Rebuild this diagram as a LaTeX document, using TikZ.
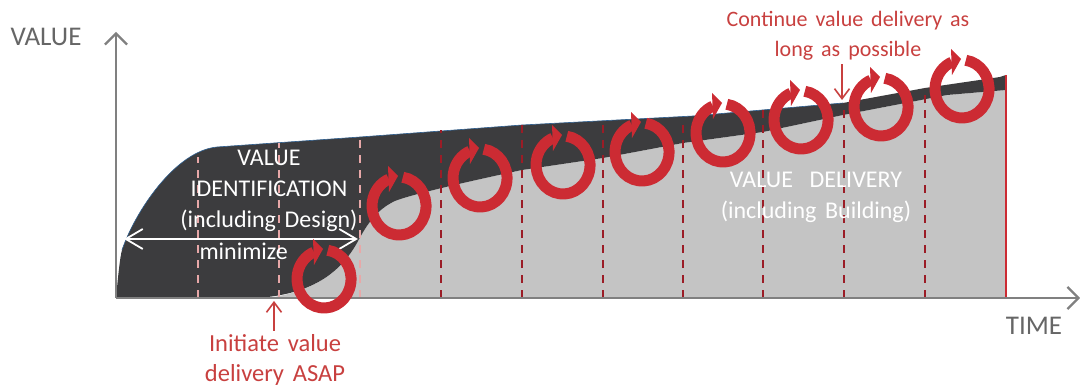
\documentclass[tikz,border=0pt]{standalone}
\usepackage{fontspec}
\setmainfont{Carlito}[WordSpace=1.6]
\usetikzlibrary{arrows.meta}
\definecolor{darkarea}{HTML}{3C3C3E}
\definecolor{lightarea}{HTML}{C4C4C4}
\definecolor{axisgray}{HTML}{808080}
\definecolor{loopred}{HTML}{CC2B33}
\definecolor{notered}{HTML}{C8403F}
\definecolor{paledash}{HTML}{E8A8A8}
\definecolor{deepdash}{HTML}{9B1C26}
\definecolor{edgeblue}{HTML}{2F5F8F}
\tikzset{
    axisline/.style={draw=axisgray, line width=2.2pt, -{Straight Barb[length=11pt,width=22pt,line width=2.2pt]}},
    axislabel/.style={text=black!60, font=\fontsize{27}{30}\selectfont},
    whitelabel/.style={text=white, align=center, font=\fontsize{24}{31}\selectfont},
    notelabel/.style={text=notered, align=center, font=\fontsize{22}{30}\selectfont},
    notearrow/.style={draw=notered, line width=1.6pt, -{Straight Barb[length=10pt,width=15pt,line width=1.6pt]}},
    spanarrow/.style={draw=white, line width=1.8pt, {Straight Barb[length=17pt,width=20pt,line width=1.8pt]}-{Straight Barb[length=17pt,width=20pt,line width=1.8pt]}},
    cutline/.style={line width=2.4pt, dash pattern=on 8pt off 7pt},
    valueloop/.pic={
        \draw[loopred, line width=11pt] (3.8, 28.7) arc [start angle=82, end angle=-248, x radius=27, y radius=29];
        \fill[loopred] (-11, 40) -- (-1, 30) -- (-10, 14) -- cycle;
    }
}
\begin{document}
\begin{tikzpicture}[x=1pt, y=1pt]
    \useasboundingbox (0, 0) rectangle (1080, 387);

    % light area under the delivery curve
    \fill[lightarea] (268, 89) .. controls (300, 94) and (335, 105) .. (357, 144)
        .. controls (368, 165) and (378, 178) .. (395, 186)
        .. controls (412, 193) and (480, 208) .. (522, 217)
        -- (603, 229) -- (683, 244) -- (763, 255) -- (843, 272) -- (947, 292) -- (1006, 297)
        -- (1006, 89) -- cycle;

    % dark area between the two curves
    \fill[darkarea] (116, 89) .. controls (118, 110) and (120, 130) .. (122, 137)
        .. controls (135, 175) and (175, 236) .. (217, 240)
        -- (360, 250) -- (522, 262) -- (693, 271) -- (843, 284) -- (925, 299) -- (1000, 310) -- (1006, 312)
        -- (1006, 297) -- (947, 292) -- (843, 272) -- (763, 255) -- (683, 244) -- (603, 229) -- (522, 217)
        .. controls (480, 208) and (412, 193) .. (395, 186)
        .. controls (378, 178) and (368, 165) .. (357, 144)
        .. controls (335, 105) and (300, 94) .. (268, 90)
        -- cycle;
    \draw[edgeblue, line width=0.6pt] (122, 137) .. controls (135, 175) and (175, 236) .. (217, 240)
        -- (360, 250) -- (522, 262) -- (693, 271) -- (843, 284);

    % end of delivery
    \draw[loopred, line width=2pt] (1006, 89) -- (1006, 312);

    % cuts between increments
    \foreach \px/\ptop in {198/230, 279/244, 360/250} {
        \draw[cutline, paledash] (\px, 89) -- (\px, \ptop);
    }
    \foreach \px/\ptop in {441/257, 522/262, 603/262, 683/266, 763/280, 844/284, 925/299} {
        \draw[cutline, deepdash] (\px, 89) -- (\px, \ptop);
    }

    % axes
    \coordinate (origin) at (116, 89);
    \coordinate (valueend) at (116, 355);
    \coordinate (timeend) at (1080, 89);
    \draw[axisline] (origin) -- (valueend);
    \draw[axisline] (origin) -- (timeend);
    \node[axislabel] (valuelabel) at (46, 350) {VALUE};
    \node[axislabel] (timelabel) at (1034, 61) {TIME};

    % minimize span and area labels
    \coordinate (spanleft) at (124, 148);
    \coordinate (spanright) at (358, 148);
    \draw[spanarrow] (spanleft) -- (spanright);
    \node[whitelabel] (identification) at (269, 196) {VALUE\\IDENTIFICATION\\(including Design)};
    \node[whitelabel, anchor=west] (minimize) at (196, 136) {minimize};
    \node[whitelabel] (delivery) at (816, 190) {VALUE\hspace{8pt} DELIVERY\\(including Building)};

    % increments
    \foreach \cx/\cy in {324/108, 399/181, 480/209, 563/222, 642/235, 723/254, 801/267, 881/280, 962/298} {
        \pic at (\cx, \cy) {valueloop};
    }

    % notes
    \coordinate (firstdelivery) at (274, 86);
    \coordinate (laterdelivery) at (842, 287);
    \node[notelabel, font=\fontsize{24.5}{30}\selectfont] (asap) at (275, 27) {Initiate value\\delivery ASAP};
    \node[notelabel] (continue) at (848, 351) {Continue value delivery as\\long as possible};
    \draw[notearrow] (asap.north -| firstdelivery) -- (firstdelivery);
    \draw[notearrow] (continue.south -| laterdelivery) -- (laterdelivery);
\end{tikzpicture}
\end{document}
